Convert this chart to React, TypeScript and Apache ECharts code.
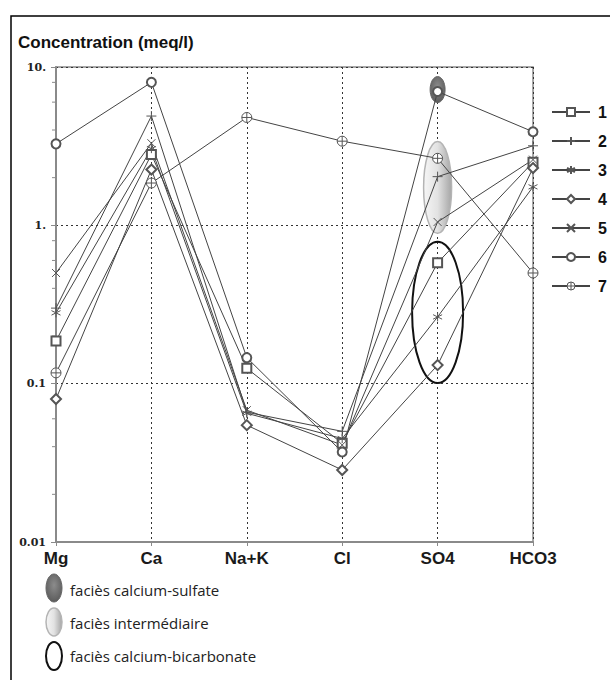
import React, { useEffect, useRef } from "react";
import * as echarts from "echarts";

// ---- Data ----
const categories = ["Mg", "Ca", "Na+K", "Cl", "SO4", "HCO3"];
const seriesNames = ["1", "2", "3", "4", "5", "6", "7"];
const s1 = [0.186, 2.8, 0.125, 0.042, 0.58, 2.5];
const s2 = [0.3, 4.9, 0.066, 0.05, 2.03, 3.18];
const s3 = [0.28, 3.05, 0.065, 0.045, 0.264, 1.75];
const s4 = [0.08, 2.25, 0.0547, 0.0285, 0.131, 2.3];
const s5 = [0.5, 3.3, 0.068, 0.041, 1.05, 2.6];
const s6 = [3.27, 8.0, 0.146, 0.037, 7.0, 3.9];
const s7 = [0.117, 1.85, 4.8, 3.4, 2.65, 0.5];
const seriesValues = [s1, s2, s3, s4, s5, s6, s7];

const yTickValues = [0.01, 0.1, 1, 10];
const yTickLabels = ["0.01", "0.1", "1.", "10."];
const minorTickValues = [0.02, 0.04, 0.06, 0.08, 0.2, 0.4, 0.6, 0.8, 2, 4, 6, 8];

const faciesNames = ["faciès calcium-sulfate", "faciès intermédiaire", "faciès calcium-bicarbonate"];
const faciesCategory = ["SO4", "SO4", "SO4"];
const faciesTop = [8.7, 3.38, 0.787];
const faciesBottom = [5.96, 0.89, 0.101];

// ---- Styles ----
const SYM_PLUS = "path://M5,0L5,10M0,5L10,5";
const SYM_STAR = "path://M5,0L5,10M0.7,2.5L9.3,7.5M0.7,7.5L9.3,2.5";
const SYM_X = "path://M0,0L10,10M0,10L10,0";
const SYM_CPLUS = "path://M0,5A5,5,0,1,1,10,5A5,5,0,1,1,0,5ZM5,0L5,10M0,5L10,5";
const symbols = ["emptyRect", SYM_PLUS, SYM_STAR, "emptyDiamond", SYM_X, "emptyCircle", SYM_CPLUS];
const symbolSizes = [9, 10, 9, 10, 8, 9, 10];
const MARK = "#555";

const faciesStyle = () => [
  {
    rx: 7.5,
    style: {
      fill: new echarts.graphic.RadialGradient(0.5, 0.4, 0.6, [
        { offset: 0, color: "#8c8c8c" },
        { offset: 1, color: "#5c5c5c" },
      ]),
      stroke: "#666",
      lineWidth: 1,
    },
  },
  {
    rx: 14,
    style: {
      fill: new echarts.graphic.LinearGradient(0, 0, 1, 0, [
        { offset: 0, color: "#f6f6f6" },
        { offset: 0.5, color: "#e2e2e2" },
        { offset: 1, color: "#a6a6a6" },
      ]),
      stroke: "#b4b4b4",
      lineWidth: 1.5,
    },
  },
  {
    rx: 25.5,
    style: { fill: "none", stroke: "#111", lineWidth: 2 },
  },
];

export default function App() {
  const ref = useRef<HTMLDivElement>(null);
  useEffect(() => {
    if (!ref.current) return;
    const chart = echarts.init(ref.current, undefined, { renderer: "svg" });
    const fStyles = faciesStyle();
    const legendStyles = faciesStyle();

    const itemStyleFor = (i: number) => ({
      color: i === 6 ? "#fff" : MARK,
      borderColor: MARK,
      borderWidth: 1,
    });

    const lineSeries = seriesNames.map((name, i) => ({
      name,
      type: "line",
      data: seriesValues[i],
      symbol: symbols[i],
      symbolSize: symbolSizes[i],
      showAllSymbol: true,
      z: 3,
      lineStyle: { color: "#444", width: 1 },
      itemStyle: itemStyleFor(i),
      emphasis: { disabled: true },
      silent: true,
    }));

    const option: any = {
      animation: false,
      backgroundColor: "#fff",
      title: {
        text: "Concentration (meq/l)",
        left: 13,
        top: 29,
        textStyle: {
          fontFamily: "Liberation Sans",
          fontWeight: "bold",
          fontSize: 17,
          color: "#111",
        },
      },
      grid: {
        left: 56,
        right: 77,
        top: 67,
        bottom: 138,
        show: true,
        borderColor: "#8a8a8a",
        borderWidth: 1.5,
        backgroundColor: "transparent",
        outerBoundsMode: "none",
      },
      legend: {
        data: seriesNames.map((n, i) =>
          i === 6 ? { name: n, itemStyle: itemStyleFor(i) } : { name: n }
        ),
        orient: "vertical",
        left: 546,
        top: 99,
        itemWidth: 38,
        itemHeight: 10,
        itemGap: 13,
        selectedMode: false,
        textStyle: {
          fontFamily: "Liberation Sans",
          fontWeight: "bold",
          fontSize: 16,
          color: "#111",
          padding: [0, 0, 0, 3],
        },
      },
      xAxis: {
        type: "category",
        data: categories,
        boundaryGap: false,
        axisLine: { show: true, lineStyle: { color: "#8a8a8a", width: 2 } },
        axisTick: { show: true, length: 4, lineStyle: { color: "#8a8a8a" } },
        axisLabel: {
          fontFamily: "Liberation Sans",
          fontWeight: "bold",
          fontSize: 17,
          color: "#1a1a1a",
          margin: 8,
          interval: 0,
        },
        splitLine: {
          show: true,
          lineStyle: { color: "#333", width: 1, type: [2, 3] },
        },
      },
      yAxis: {
        type: "log",
        logBase: 10,
        min: 0.01,
        max: 10,
        axisLine: { show: true, lineStyle: { color: "#8a8a8a", width: 2 } },
        axisTick: { show: true, length: 5, lineStyle: { color: "#8a8a8a" } },
        axisLabel: {
          fontFamily: "DejaVu Serif",
          fontWeight: "bold",
          fontSize: 11,
          color: "#222",
          margin: 10,
          showMinLabel: true,
          showMaxLabel: true,
          formatter: (v: number) => {
            let best = 0;
            let bd = Infinity;
            yTickValues.forEach((t, k) => {
              const d = Math.abs(Math.log10(v) - Math.log10(t));
              if (d < bd) {
                bd = d;
                best = k;
              }
            });
            return bd < 0.01 ? yTickLabels[best] : "";
          },
        },
        splitLine: {
          show: true,
          lineStyle: { color: "#333", width: 1, type: [2, 3] },
        },
      },
      series: [
        {
          name: "facies",
          type: "custom",
          z: 1,
          silent: true,
          clip: false,
          data: faciesCategory.map((c, i) => [c, faciesTop[i], faciesBottom[i]]),
          renderItem: (params: any, api: any) => {
            const i = params.dataIndex;
            const t = api.coord([api.value(0), api.value(1)]);
            const b = api.coord([api.value(0), api.value(2)]);
            return {
              type: "ellipse",
              shape: {
                cx: t[0],
                cy: (t[1] + b[1]) / 2,
                rx: fStyles[i].rx,
                ry: (b[1] - t[1]) / 2,
              },
              style: fStyles[i].style,
            };
          },
        },
        {
          name: "minorTicks",
          type: "custom",
          z: 2,
          silent: true,
          clip: false,
          data: minorTickValues.map((v) => [0, v]),
          renderItem: (params: any, api: any) => {
            const p = api.coord([api.value(0), api.value(1)]);
            return {
              type: "line",
              shape: { x1: p[0] - 4, y1: p[1], x2: p[0], y2: p[1] },
              style: { stroke: "#8a8a8a", lineWidth: 1 },
            };
          },
        },
        ...lineSeries,
      ],
      graphic: [
        {
          type: "rect",
          silent: true,
          z: -10,
          shape: { x: 11, y: 16, width: 640, height: 700 },
          style: { fill: "none", stroke: "#000", lineWidth: 1.5 },
        },
        ...faciesNames.map((n, i) => ({
          type: "group",
          silent: true,
          children: [
            {
              type: "ellipse",
              shape: { cx: 54, cy: 588 + i * 34, rx: 8, ry: 14 },
              style: legendStyles[i].style,
            },
            {
              type: "text",
              x: 70,
              y: 590 + i * 33,
              style: {
                text: n,
                fontFamily: "Open Sans",
                fontSize: 15,
                fill: "#222",
                verticalAlign: "middle",
                textAlign: "left",
              },
            },
          ],
        })),
      ],
    };
    chart.setOption(option);
    return () => chart.dispose();
  }, []);

  return (
    <div
      ref={ref}
      style={{ position: "fixed", left: 0, top: 0, width: 610, height: 680 }}
    />
  );
}
